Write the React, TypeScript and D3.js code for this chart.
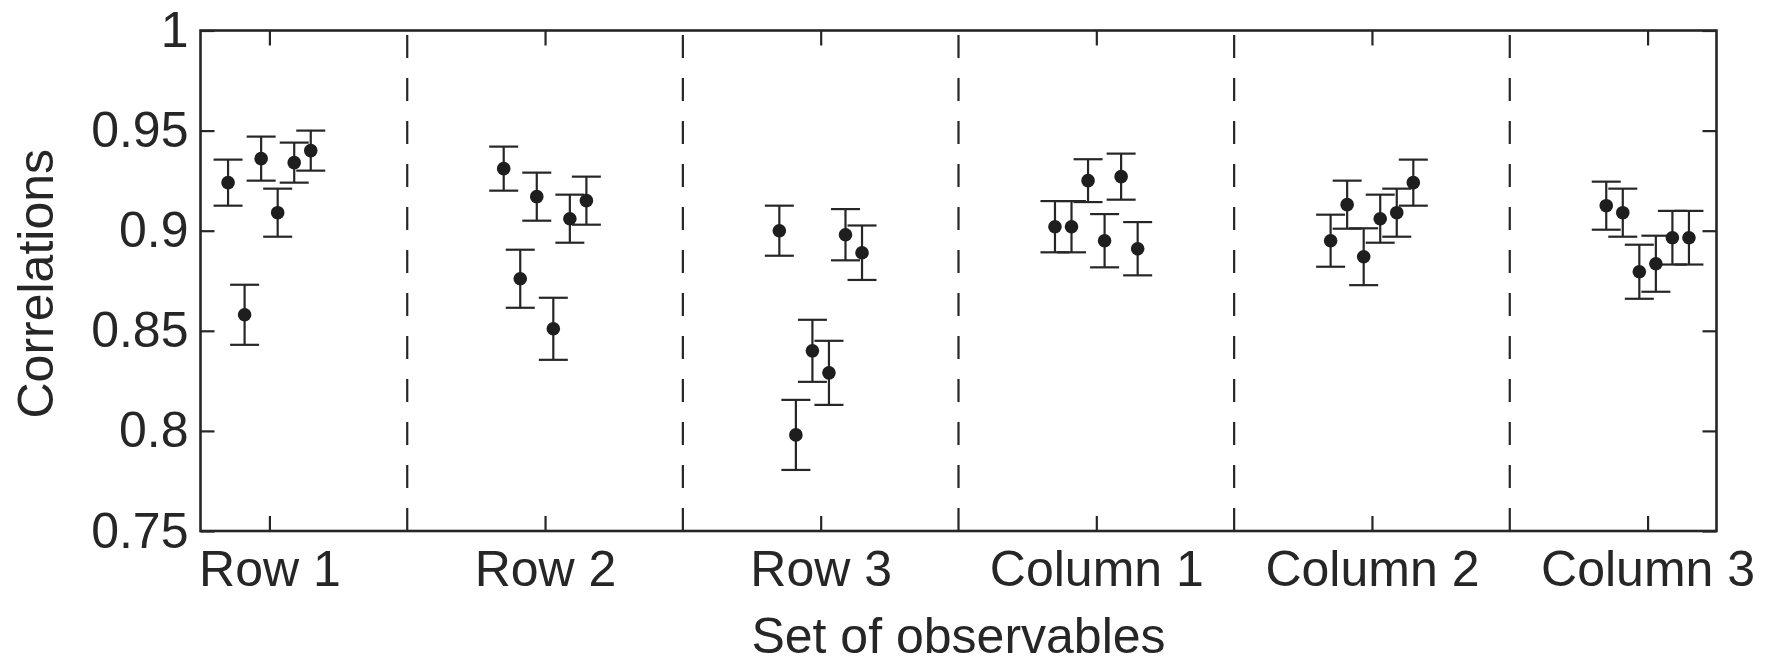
import { useEffect, useRef } from "react";
import * as d3 from "d3";

// group labels along the x axis
const groups = ["Row 1", "Row 2", "Row 3", "Column 1", "Column 2", "Column 3"];

// correlation means, six observables per group
const row1Mean = [0.924, 0.858, 0.936, 0.909, 0.934, 0.94];
const row2Mean = [0.931, 0.876, 0.917, 0.851, 0.906, 0.915];
const row3Mean = [0.9, 0.798, 0.84, 0.829, 0.898, 0.889];
const col1Mean = [0.902, 0.902, 0.925, 0.895, 0.927, 0.891];
const col2Mean = [0.895, 0.913, 0.887, 0.906, 0.909, 0.924];
const col3Mean = [0.9125, 0.909, 0.8795, 0.8835, 0.8965, 0.8965];

// half-widths of the error bars
const row1Err = [0.0115, 0.015, 0.011, 0.012, 0.01, 0.01];
const row2Err = [0.011, 0.0145, 0.012, 0.0155, 0.012, 0.012];
const row3Err = [0.0125, 0.0175, 0.0155, 0.016, 0.0128, 0.0136];
const col1Err = [0.0128, 0.0128, 0.0107, 0.0133, 0.0115, 0.0133];
const col2Err = [0.013, 0.012, 0.0142, 0.012, 0.012, 0.0115];
const col3Err = [0.012, 0.012, 0.0135, 0.014, 0.0134, 0.0134];

const yTicks = [0.75, 0.8, 0.85, 0.9, 0.95, 1];
const yTickLabels = ["0.75", "0.8", "0.85", "0.9", "0.95", "1"];

const means = [row1Mean, row2Mean, row3Mean, col1Mean, col2Mean, col3Mean];
const errs = [row1Err, row2Err, row3Err, col1Err, col2Err, col3Err];

const App = () => {
  const svgRef = useRef<SVGSVGElement | null>(null);

  const width = 1771;
  const height = 665;

  useEffect(() => {
    if (!svgRef.current) return;
    const svg = d3.select(svgRef.current);
    svg.selectAll("*").remove();

    const ink = "#262626";
    const font = "'Liberation Sans', Arial, Helvetica, sans-serif";
    const left = 200.5;
    const right = 1716.5;
    const top = 30.5;
    const bottom = 531;

    const x = d3.scaleLinear().domain([0.75, 6.25]).range([left, right]);
    const y = d3.scaleLinear().domain([0.75, 1]).range([bottom, top]);

    // dashed separators between groups (drawn bottom-up so the dashes start at the axis)
    const seps = d3.range(1.5, 6, 1);
    svg.append("g")
      .selectAll("line")
      .data(seps)
      .join("line")
      .attr("x1", (d) => x(d))
      .attr("x2", (d) => x(d))
      .attr("y1", bottom)
      .attr("y2", top)
      .attr("stroke", ink)
      .attr("stroke-width", 2.2)
      .attr("stroke-dasharray", "23,20");

    // axes with inward ticks
    const fmt = (d: d3.NumberValue) => yTickLabels[yTicks.indexOf(+d)] ?? "";

    const gLeft = svg.append("g").attr("transform", `translate(${left},0)`)
      .call(d3.axisLeft(y).tickValues(yTicks).tickFormat(fmt).tickSize(-14).tickPadding(12));
    const gRight = svg.append("g").attr("transform", `translate(${right},0)`)
      .call(d3.axisRight(y).tickValues(yTicks).tickFormat(() => "").tickSize(-14));
    const gBottom = svg.append("g").attr("transform", `translate(0,${bottom})`)
      .call(d3.axisBottom(x).tickValues([1, 2, 3, 4, 5, 6])
        .tickFormat((d) => groups[+d - 1]).tickSize(-15).tickPadding(19));
    const gTop = svg.append("g").attr("transform", `translate(0,${top})`)
      .call(d3.axisTop(x).tickValues([1, 2, 3, 4, 5, 6]).tickFormat(() => "").tickSize(-15));

    [gLeft, gRight, gBottom, gTop].forEach((g) => {
      g.select(".domain").remove();
      g.selectAll(".tick line").attr("stroke", ink).attr("stroke-width", 2.2);
      g.selectAll(".tick text")
        .attr("fill", ink)
        .attr("font-family", font)
        .attr("font-size", 50);
    });

    // plot frame
    svg.append("rect")
      .attr("x", left)
      .attr("y", top)
      .attr("width", right - left)
      .attr("height", bottom - top)
      .attr("fill", "none")
      .attr("stroke", ink)
      .attr("stroke-width", 2.6);

    // error bars + points
    const pts = means.flatMap((arr, gi) =>
      arr.map((m, i) => ({ xv: gi + 1 + (i - 2.5) * 0.06, m, e: errs[gi][i] }))
    );
    const capW = 14.5;
    const bars = svg.append("g").attr("stroke", ink).attr("stroke-width", 2.2);
    pts.forEach((p) => {
      const cx = x(p.xv);
      bars.append("line").attr("x1", cx).attr("x2", cx)
        .attr("y1", y(p.m - p.e)).attr("y2", y(p.m + p.e));
      bars.append("line").attr("x1", cx - capW).attr("x2", cx + capW)
        .attr("y1", y(p.m + p.e)).attr("y2", y(p.m + p.e));
      bars.append("line").attr("x1", cx - capW).attr("x2", cx + capW)
        .attr("y1", y(p.m - p.e)).attr("y2", y(p.m - p.e));
    });
    svg.append("g")
      .selectAll("circle")
      .data(pts)
      .join("circle")
      .attr("cx", (d) => x(d.xv))
      .attr("cy", (d) => y(d.m))
      .attr("r", 6.8)
      .attr("fill", "#1e1e1e");

    // axis titles
    svg.append("text")
      .attr("x", (left + right) / 2)
      .attr("y", 653)
      .attr("text-anchor", "middle")
      .attr("font-family", font)
      .attr("font-size", 50)
      .attr("fill", ink)
      .text("Set of observables");

    svg.append("text")
      .attr("transform", `translate(53,${(top + bottom) / 2 + 3}) rotate(-90)`)
      .attr("text-anchor", "middle")
      .attr("font-family", font)
      .attr("font-size", 50)
      .attr("fill", ink)
      .text("Correlations");
  }, []);

  return (
    <svg
      ref={svgRef}
      width={width}
      height={height}
      viewBox={`0 0 ${width} ${height}`}
      style={{ position: "absolute", left: 0, top: 0, background: "#fff" }}
    />
  );
};

export default App;
